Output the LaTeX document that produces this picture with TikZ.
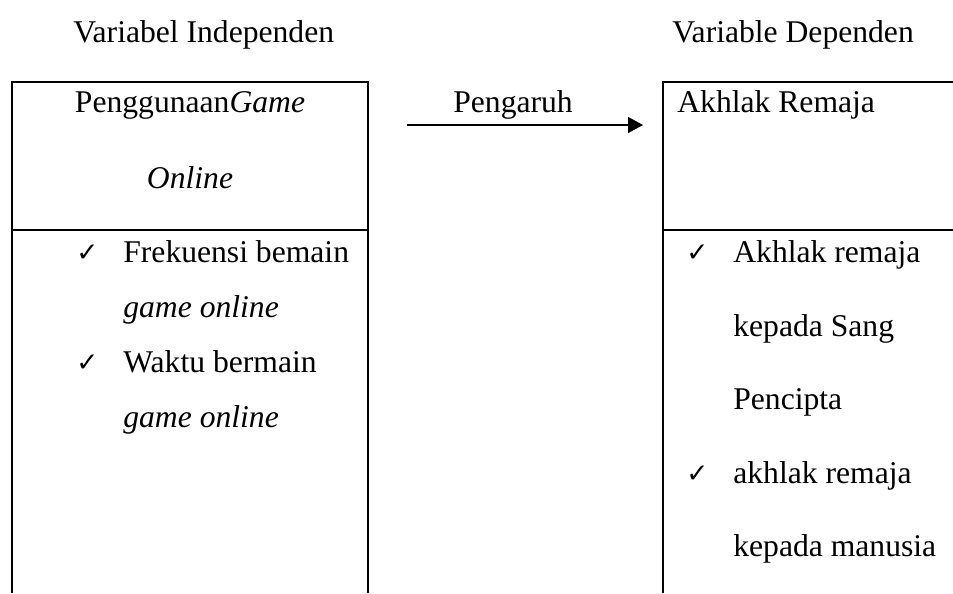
\documentclass[tikz,border=0pt]{standalone}
\usepackage{fontspec}
\setmainfont{Liberation Serif}
\newfontfamily\symfont{DejaVu Sans}
\usetikzlibrary{arrows.meta}

\begin{document}
\begin{tikzpicture}[x=0.02cm, y=-0.02cm, font=\fontsize{18}{22}\selectfont,
    txt/.style={anchor=base west, inner sep=0pt},
    ctxt/.style={anchor=base, inner sep=0pt},
    tick/.style={anchor=base west, inner sep=0pt, font=\symfont\fontsize{15}{17}\selectfont},
    garis/.style={line width=1.2pt}]
    \clip (0,0) rectangle (953,593);

    \node[txt] (judulX) at (73,42) {Variabel Independen};
    \node[txt] (judulY) at (672,42) {Variable Dependen};

    % kotak kiri
    \draw[garis] (12,593) -- (12,82) -- (368,82) -- (368,593);
    \draw[garis] (12,230) -- (368,230);
    \node[ctxt] (varX1) at (190,112) {Penggunaan\textit{Game}};
    \node[ctxt] (varX2) at (190,188) {\textit{Online}};

    \node[tick] (cekX1) at (76,261) {✓};
    \node[txt]  (indX1) at (123,262) {Frekuensi bemain};
    \node[txt]  (indX2) at (123,317) {\textit{game online}};
    \node[tick] (cekX2) at (76,371) {✓};
    \node[txt]  (indX3) at (123,372) {Waktu bermain};
    \node[txt]  (indX4) at (123,427) {\textit{game online}};

    % panah pengaruh
    \node[txt] (pengaruh) at (453,112) {Pengaruh};
    \coordinate (pA) at (407,125);
    \coordinate (pB) at (643,125);
    \draw[-{Triangle[length=0.3cm,width=0.32cm]}, line width=0.9pt] (pA) -- (pB);

    % kotak kanan
    \draw[garis] (953,82) -- (663,82) -- (663,593);
    \draw[garis] (663,230) -- (953,230);
    \node[txt] (varY) at (677,112) {Akhlak Remaja};

    \node[tick] (cekY1) at (686,261) {✓};
    \node[txt]  (indY1) at (733,262) {Akhlak remaja};
    \node[txt]  (indY2) at (733,336) {kepada Sang};
    \node[txt]  (indY3) at (733,409) {Pencipta};
    \node[tick] (cekY2) at (686,482) {✓};
    \node[txt]  (indY4) at (733,483) {akhlak remaja};
    \node[txt]  (indY5) at (733,556) {kepada manusia};
\end{tikzpicture}
\end{document}
